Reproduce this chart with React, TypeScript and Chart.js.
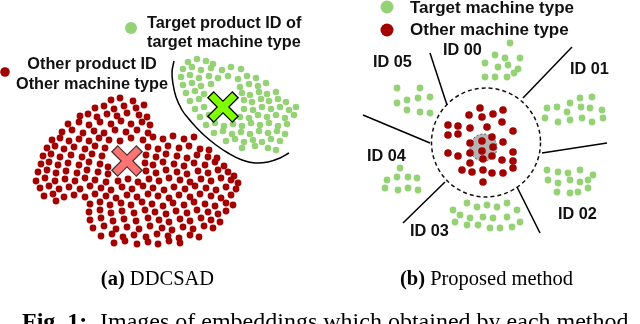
import React, { useEffect, useRef } from "react";
import { Chart, registerables } from "chart.js";

Chart.register(...registerables);

type P = [number, number];

// ---------- (a) DDCSAD embeddings ----------
const otherCloudA: P[] = [
  [111,100],[120,98],[133,101],
  [95,108],[104,106],[114,109],[124,106],[136,108],[144,105],
  [80,116],[88,114],[97,117],[107,114],[117,116],[127,113],[139,115],[147,117],
  [68,124],[79,122],[89,125],[100,122],[111,124],[121,121],[131,124],[142,122],[150,125],
  [62,132],[72,130],[83,133],[94,131],[104,133],[115,130],[126,132],[137,130],[148,133],
  [52,140],[60,138],[69,141],[79,139],[89,141],[99,138],[109,140],[120,141],[131,138],[143,140],[153,137],[163,139],[173,136],[184,139],[194,137],
  [47,148],[55,146],[64,149],[74,147],[85,149],[95,146],[105,148],[148,147],[158,149],[168,146],[179,148],[189,146],[200,149],[209,150],
  [43,156],[51,154],[60,157],[71,155],[82,157],[92,154],[102,156],[146,155],[156,157],[166,154],[177,156],[187,158],[197,155],[208,157],[217,158],
  [41,164],[49,162],[58,165],[68,163],[79,165],[89,162],[100,164],[108,167],[145,163],[153,165],[163,162],[174,164],[184,166],[194,163],[205,165],[215,162],[224,166],
  [38,172],[47,170],[56,173],[66,171],[77,173],[87,170],[98,172],[108,174],[146,171],[156,173],[166,170],[177,172],[187,174],[198,171],[208,173],[218,170],[228,172],[234,176],
  [36,181],[45,178],[55,181],[65,179],[75,181],[85,178],[95,180],[106,182],[118,181],[128,179],[138,182],[149,179],[159,181],[169,178],[180,180],[190,182],[201,179],[211,181],[221,178],[231,180],[238,183],
  [40,188],[49,186],[59,189],[69,187],[80,189],[90,186],[101,188],[111,190],[122,187],[132,189],[143,186],[153,188],[164,190],[174,187],[185,189],[195,186],[206,188],[216,190],[226,187],[236,189],
  [44,196],[53,194],[64,197],[74,195],[85,197],[95,194],[106,196],[116,198],[127,195],[137,197],[148,194],[158,196],[169,198],[179,195],[190,197],[200,194],[211,196],[221,198],[231,195],
  [56,201],[90,204],[100,202],[110,205],[121,203],[131,205],[142,202],[152,204],[163,206],[173,203],[184,205],[194,202],[205,204],[215,206],[226,203],[233,205],
  [89,212],[100,210],[111,213],[122,211],[134,213],[145,210],[155,212],[166,214],[176,211],[187,213],[197,210],[208,212],[218,214],[226,211],
  [90,220],[101,218],[113,221],[124,219],[136,221],[148,218],[159,220],[169,222],[180,219],[190,221],[201,218],[211,220],[220,222],
  [93,228],[104,226],[116,229],[127,227],[139,229],[150,226],[162,228],[172,230],[183,227],[193,229],[204,226],[213,228],
  [101,236],[112,234],[123,237],[134,235],[146,237],[157,234],[168,236],[179,238],[190,235],[199,237],
  [114,243],[125,241],[137,244],[148,242],[158,244],[169,241],[180,243],
];

const targetCloudA: P[] = [
  [188,62],[197,59],[206,61],[213,64],
  [183,69],[192,67],[201,70],[211,68],[222,70],[231,67],[241,69],
  [181,77],[190,75],[199,78],[209,76],[218,78],[228,76],[238,79],[247,76],[256,78],
  [183,85],[192,83],[201,86],[211,84],[240,87],[249,84],[258,86],[266,83],
  [186,93],[195,91],[204,94],[242,93],[250,95],[259,92],[267,94],[276,92],
  [190,101],[199,99],[244,100],[252,102],[261,99],[269,101],[278,99],[286,102],
  [195,109],[204,107],[244,109],[253,110],[262,107],[271,109],[280,107],[289,110],[296,107],
  [200,117],[209,115],[240,117],[249,118],[258,115],[267,117],[276,115],[285,118],[294,115],
  [206,125],[215,123],[224,126],[233,124],[242,126],[251,123],[260,125],[269,123],[278,126],[287,124],
  [214,133],[223,131],[232,134],[241,132],[250,134],[259,131],[268,133],[277,131],[285,134],
  [226,141],[235,139],[244,142],[253,140],[262,142],[271,139],[280,141],
  [242,148],[255,146],[268,148],[276,150],
];

const centerTargetA: P[] = [[223, 107]];
const centerOtherA: P[] = [[127, 161]];
const boundaryArc: P[] = [
  [174,61],[172,72],[173,84],[176,97],[182,110],[188,118],[195,126],[205,136],
  [216,145],[228,153],[242,160],[255,163],[268,162],[280,158],[289,153],
];

// ---------- (b) Proposed method embeddings ----------
const otherCloudB: P[] = [
  [480,108],[503,110],[469,115],[482,117],[493,114],[448,125],[458,126],[470,128],[487,127],
  [502,122],[513,131],[448,135],[458,134],[492,137],[503,142],[470,143],[482,141],[493,147],
  [482,151],[448,153],[458,156],[513,152],[492,156],[470,153],[483,159],[502,160],[513,161],
  [470,163],[462,170],[472,172],[483,170],[492,173],[503,173],[513,168],[483,182],
];
const id00Cloud: P[] = [
  [510,43],[495,55],[505,58],[520,58],[485,63],[498,67],[508,65],[518,69],[485,77],[495,77],[507,77],[514,73],
];
const id01Cloud: P[] = [
  [547,108],[557,107],[570,103],[580,98],[592,97],[602,110],[590,108],[581,107],[567,112],
  [545,118],[558,122],[570,120],[582,118],[592,122],[603,118],
];
const id02Cloud: P[] = [
  [547,170],[558,172],[568,173],[580,170],[593,175],[548,180],[558,183],[570,180],[580,182],
  [588,180],[557,192],[570,193],[578,192],[588,188],
];
const id03Cloud: P[] = [
  [453,210],[467,203],[477,207],[487,205],[497,207],[507,203],[517,210],[460,215],[470,218],
  [483,217],[493,218],[507,217],[520,222],[455,222],[467,225],[478,225],[490,228],[500,228],[512,227],
];
const id04Cloud: P[] = [
  [400,168],[387,180],[397,177],[408,177],[417,178],[385,188],[398,190],[408,188],[418,190],
];
const id05Cloud: P[] = [
  [397,88],[420,88],[430,97],[418,98],[407,100],[397,103],[407,110],[420,112],[430,113],
];
const spokeLines: P[][] = [
  [[430,53],[447,105]],
  [[572,47],[523,98]],
  [[363,115],[430,143]],
  [[607,143],[542,153]],
  [[445,182],[403,223]],
  [[517,187],[540,233]],
];
const marginCircle = { cx: 486, cy: 142.5, r: 54.5 };
const coreDisc = { cx: 483.5, cy: 147.5, r: 13.5 };

// ---------- legend + labels ----------
const legendTargetA: P[] = [[131, 28]];
const legendOtherA: P[] = [[5, 72]];
const legendTargetB: P[] = [[387, 7]];
const legendOtherB: P[] = [[387, 30]];

const legendTextA = ["Target product ID of", "target machine type", "Other product ID", "Other machine type"];
const legendTextB = ["Target machine type", "Other machine type"];
const idLabels = ["ID 00", "ID 05", "ID 01", "ID 04", "ID 02", "ID 03"];
const captionA = ["(a)", " DDCSAD"];
const captionB = ["(b)", " Proposed method"];
const figCaption = ["Fig. 1:", "Images of embeddings which obtained by each method"];

const RED = "#a30000";
const GREEN = "#95d275";

const pts = (a: P[]) => a.map(([x, y]) => ({ x, y }));

export default function App() {
  const ref = useRef<HTMLCanvasElement>(null);
  useEffect(() => {
    const canvas = ref.current!;
    const scatter = (data: P[], color: string, r: number, order: number) => ({
      data: pts(data),
      backgroundColor: color,
      borderColor: color,
      borderWidth: 0,
      pointRadius: r,
      pointHoverRadius: r,
      order,
    });
    const cross = (data: P[], color: string, r: number, w: number, order: number) => ({
      data: pts(data),
      pointStyle: "crossRot",
      borderColor: color,
      backgroundColor: color,
      borderWidth: w,
      pointRadius: r,
      pointHoverRadius: r,
      order,
    });
    const line = (data: P[], order: number, tension = 0) => ({
      data: pts(data),
      showLine: true,
      borderColor: "#000",
      borderWidth: 1.5,
      pointRadius: 0,
      tension,
      fill: false,
      order,
    });

    const overlay = {
      id: "overlay",
      beforeDatasetsDraw(chart: any) {
        const { ctx, scales } = chart;
        const sx = scales.x, sy = scales.y;
        const disc = (c: { cx: number; cy: number; r: number }) => ({
          x: sx.getPixelForValue(c.cx),
          y: sy.getPixelForValue(c.cy),
          r: sx.getPixelForValue(c.cx + c.r) - sx.getPixelForValue(c.cx),
        });
        ctx.save();
        const m = disc(marginCircle);
        ctx.beginPath();
        ctx.arc(m.x, m.y, m.r, 0, Math.PI * 2);
        ctx.setLineDash([4, 3]);
        ctx.lineWidth = 1.5;
        ctx.strokeStyle = "#111";
        ctx.stroke();
        const c = disc(coreDisc);
        ctx.setLineDash([2, 2]);
        ctx.beginPath();
        ctx.arc(c.x, c.y, c.r, 0, Math.PI * 2);
        ctx.fillStyle = "#b4b4b4";
        ctx.fill();
        ctx.lineWidth = 1;
        ctx.strokeStyle = "#555";
        ctx.stroke();
        ctx.restore();
      },
      afterDatasetsDraw(chart: any) {
        const { ctx, scales } = chart;
        const sx = (v: number) => scales.x.getPixelForValue(v);
        const sy = (v: number) => scales.y.getPixelForValue(v);
        ctx.save();
        ctx.fillStyle = "#111";
        ctx.textBaseline = "alphabetic";
        const sans = (s: number) => `bold ${s}px "Liberation Sans", Arial, sans-serif`;
        const put = (t: string, x: number, y: number, size: number, align: CanvasTextAlign = "left") => {
          ctx.font = sans(size);
          ctx.textAlign = align;
          ctx.fillText(t, sx(x), sy(y));
        };
        put(legendTextA[0], 147, 28, 16.3);
        put(legendTextA[1], 147, 47, 16.3);
        put(legendTextA[2], 92, 69, 16.3, "center");
        put(legendTextA[3], 92, 89, 16.3, "center");
        put(legendTextB[0], 410, 13, 17);
        put(legendTextB[1], 410, 35, 17);
        const idPos: P[] = [[443,55],[373,67],[570,74],[367,161],[558,219],[410,236]];
        idLabels.forEach((t, i) => put(t, idPos[i][0], idPos[i][1], 16.3));

        // captions
        const serif = (w: string, s: number) => `${w} ${s}px "Liberation Serif", "Times New Roman", serif`;
        const twoPart = (parts: string[], cx: number, base: number, size: number) => {
          ctx.textAlign = "left";
          ctx.font = serif("bold", size);
          const w1 = ctx.measureText(parts[0]).width;
          ctx.font = serif("normal", size);
          const w2 = ctx.measureText(parts[1]).width;
          const x0 = cx - (w1 + w2) / 2;
          ctx.font = serif("bold", size);
          ctx.fillText(parts[0], x0, base);
          ctx.font = serif("normal", size);
          ctx.fillText(parts[1], x0 + w1, base);
        };
        ctx.fillStyle = "#000";
        twoPart(captionA, 157.5, 285, 20.5);
        twoPart(captionB, 486.5, 285, 20.5);
        ctx.textAlign = "left";
        ctx.font = serif("bold", 24);
        ctx.fillText(figCaption[0], 22, 329);
        ctx.font = serif("normal", 24);
        ctx.fillText(figCaption[1], 100, 329);
        ctx.restore();
      },
    };

    const chart = new Chart(canvas, {
      type: "scatter",
      data: {
        datasets: [
          cross(centerTargetA, "#80ff00", 16.5, 7, 1) as any,
          cross(centerTargetA, "#000", 18, 9.5, 2) as any,
          cross(centerOtherA, "#ff7373", 16.5, 7, 3) as any,
          cross(centerOtherA, "#4a3535", 18, 9.5, 4) as any,
          scatter(otherCloudA, RED, 3.4, 10),
          scatter(targetCloudA, GREEN, 3.3, 11),
          scatter(otherCloudB, RED, 3.8, 12),
          scatter(id00Cloud, GREEN, 3.4, 13),
          scatter(id01Cloud, GREEN, 3.4, 14),
          scatter(id02Cloud, GREEN, 3.4, 15),
          scatter(id03Cloud, GREEN, 3.4, 16),
          scatter(id04Cloud, GREEN, 3.4, 17),
          scatter(id05Cloud, GREEN, 3.4, 18),
          scatter(legendTargetA, GREEN, 6, 19),
          scatter(legendOtherA, RED, 4.8, 20),
          scatter(legendTargetB, GREEN, 6.5, 21),
          scatter(legendOtherB, RED, 6.5, 22),
          line(boundaryArc, 30, 0.4) as any,
          ...spokeLines.map((s, i) => line(s, 31 + i) as any),
        ],
      },
      options: {
        animation: false,
        responsive: false,
        events: [],
        layout: { padding: 0, autoPadding: false },
        plugins: { legend: { display: false }, tooltip: { enabled: false } },
        scales: {
          x: { type: "linear", min: 0, max: 640, display: false },
          y: { type: "linear", min: 0, max: 324, reverse: true, display: false },
        },
      },
      plugins: [overlay],
    });
    return () => chart.destroy();
  }, []);

  return (
    <div style={{ position: "fixed", left: 0, top: 0, width: 640, height: 324, background: "#fff" }}>
      <canvas ref={ref} width={640} height={324} style={{ display: "block" }} />
    </div>
  );
}
